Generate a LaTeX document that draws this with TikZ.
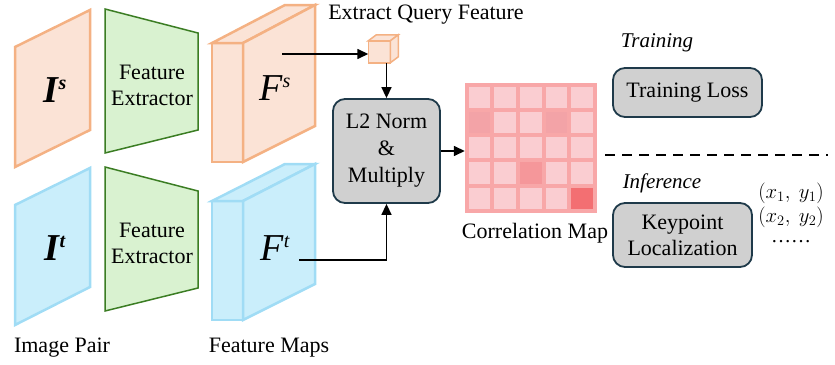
\documentclass[tikz,border=0pt]{standalone}
\usepackage{fontspec}
\setmainfont{Liberation Serif}
\newfontfamily\tnr{Liberation Serif}
\usetikzlibrary{arrows.meta,calc}
\definecolor{orfill}{HTML}{FBE3D6}
\definecolor{orline}{HTML}{F4B183}
\definecolor{blfill}{HTML}{CAEEFB}
\definecolor{blline}{HTML}{A0DCF5}
\definecolor{grfill}{HTML}{D9F2D0}
\definecolor{grline}{HTML}{3B7D23}
\definecolor{boxfill}{HTML}{D0D0D0}
\definecolor{boxline}{HTML}{1F3A4A}
\definecolor{cgrid}{HTML}{F8A7A8}
\definecolor{ccell}{HTML}{FACDD1}
\definecolor{cmid}{HTML}{F3A3A7}
\definecolor{cdark}{HTML}{F5979A}
\definecolor{cmax}{HTML}{F36F72}
\tikzset{
  txt/.style={font=\tnr\fontsize{22}{26}\selectfont, align=center, inner sep=0pt},
  itxt/.style={font=\tnr\fontsize{21}{25}\selectfont\itshape, inner sep=0pt},
  orshape/.style={fill=orfill, draw=orline, line width=2.5pt},
  blshape/.style={fill=blfill, draw=blline, line width=2.5pt},
  grshape/.style={fill=grfill, draw=grline, line width=1.5pt},
  graybox/.style={rounded corners=12pt, fill=boxfill, draw=boxline, line width=1.8pt, txt},
  arr/.style={-{Triangle[length=11pt,width=10pt]}, line width=1.5pt},
  big/.style={font=\tnr\fontsize{38}{40}\selectfont, inner sep=0pt},
  coord/.style={font=\tnr\fontsize{20}{24}\selectfont, inner sep=0pt},
}
\newcommand{\supsc}[1]{\raisebox{13pt}{\fontsize{20}{20}\selectfont\itshape #1}}
\begin{document}
\begin{tikzpicture}[x=1pt,y=-1pt]
\useasboundingbox (0,0) rectangle (835,364);

% ---- Source row ----
\draw[orshape] (15,47) -- (90,10) -- (90,130) -- (15,167) -- cycle;
\node[big] (is) at (55,90) {\bfseries\itshape I\supsc{s}};
\draw[grshape] (105,9) -- (198,33) -- (198,130) -- (105,153) -- cycle;
\node[txt] (fe1) at (152,85) {Feature\\Extractor};
\draw[orshape] (212,43) -- (243,43) -- (243,162) -- (212,162) -- cycle;
\draw[orshape] (212,43) -- (243,43) -- (315,5) -- (285,5) -- cycle;
\draw[orshape] (243,43) -- (315,5) -- (315,126) -- (243,162) -- cycle;
\node[big] (fs) at (275,88) {\itshape F\supsc{s}};

% ---- Target row ----
\draw[blshape] (15,205) -- (90,168) -- (90,287) -- (15,325) -- cycle;
\node[big] (it) at (55,248) {\bfseries\itshape I\supsc{t}};
\draw[grshape] (105,167) -- (198,191) -- (198,288) -- (105,311) -- cycle;
\node[txt] (fe2) at (152,243) {Feature\\Extractor};
\draw[blshape] (212,201) -- (243,201) -- (243,320) -- (212,320) -- cycle;
\draw[blshape] (212,201) -- (243,201) -- (315,164) -- (285,164) -- cycle;
\draw[blshape] (243,201) -- (315,164) -- (315,284) -- (243,320) -- cycle;
\node[big] (ft) at (275,248) {\itshape F\supsc{t}};

\node[txt] (lip) at (62,348) {Image Pair};
\node[txt] (lfm) at (269,348) {Feature Maps};

% ---- Query cube ----
\node[inner sep=0pt, minimum width=30pt, minimum height=28pt] (q) at (383.5,49) {};
\draw[fill=orfill, draw=orline, line width=1.5pt]
  ($(q.north west)+(0,6)$) rectangle ++(22,22);
\draw[fill=orfill, draw=orline, line width=1.5pt]
  ($(q.north west)+(0,6)$) -- ++(22,0) -- ++(8,-6) -- ++(-22,0) -- cycle;
\draw[fill=orfill, draw=orline, line width=1.5pt]
  ($(q.north west)+(22,6)$) -- ++(8,-6) -- ++(0,22) -- ++(-8,6) -- cycle;
\node[txt] (eqf) at (426,15) {Extract Query Feature};

% ---- L2 Norm box ----
\node[graybox, minimum width=107pt, minimum height=104pt] (l2) at (386.5,151) {L2 Norm\\[1pt]\&\\[1pt]Multiply};

% ---- Correlation map ----
\node[fill=cgrid, inner sep=0pt, minimum width=132pt, minimum height=130pt] (corr) at (531,148) {};
\foreach \r in {1,...,5}{
  \foreach \c in {1,...,5}{
    \fill[ccell] ($(corr.north west)+({4+(\c-1)*25.6},{4+(\r-1)*25.2})$) rectangle ++(21.6,21.2);
  }
}
\foreach \r/\c/\col in {2/1/cmid, 2/4/cmid, 4/3/cdark, 5/5/cmax}{
  \fill[\col] ($(corr.north west)+({4+(\c-1)*25.6},{4+(\r-1)*25.2})$) rectangle ++(21.6,21.2);
}
\node[txt] (lcm) at (535,233) {Correlation Map};

% ---- Right side ----
\node[itxt] (ltr) at (657,43) {Training};
\node[graybox, minimum width=149pt, minimum height=49pt] (tl) at (687.5,92.5) {Training Loss};
\coordinate (d1) at (605,155);
\coordinate (d2) at (828,155);
\draw[dash pattern=on 10pt off 7pt, line width=2pt] (d1) -- (d2);
\node[itxt] (linf) at (662,183) {Inference};
\node[graybox, minimum width=139pt, minimum height=64pt] (kl) at (682.5,235) {Keypoint\\Localization};
\node[coord] (p1) at (791,193) {$(x_1,\ y_1)$};
\node[coord] (p2) at (791,217) {$(x_2,\ y_2)$};
\node[coord] (p3) at (791,242) {……};

% ---- Connectors ----
\coordinate (fsout) at (282,54);
\coordinate (ftout) at (299,260);
\draw[arr] (fsout) -- (q.west |- fsout);
\draw[arr] (l2.north |- q.south) -- (l2.north);
\draw[arr] (ftout) -| (l2.south);
\draw[arr] (l2.east) -- (corr.west |- l2.east);
\end{tikzpicture}
\end{document}
